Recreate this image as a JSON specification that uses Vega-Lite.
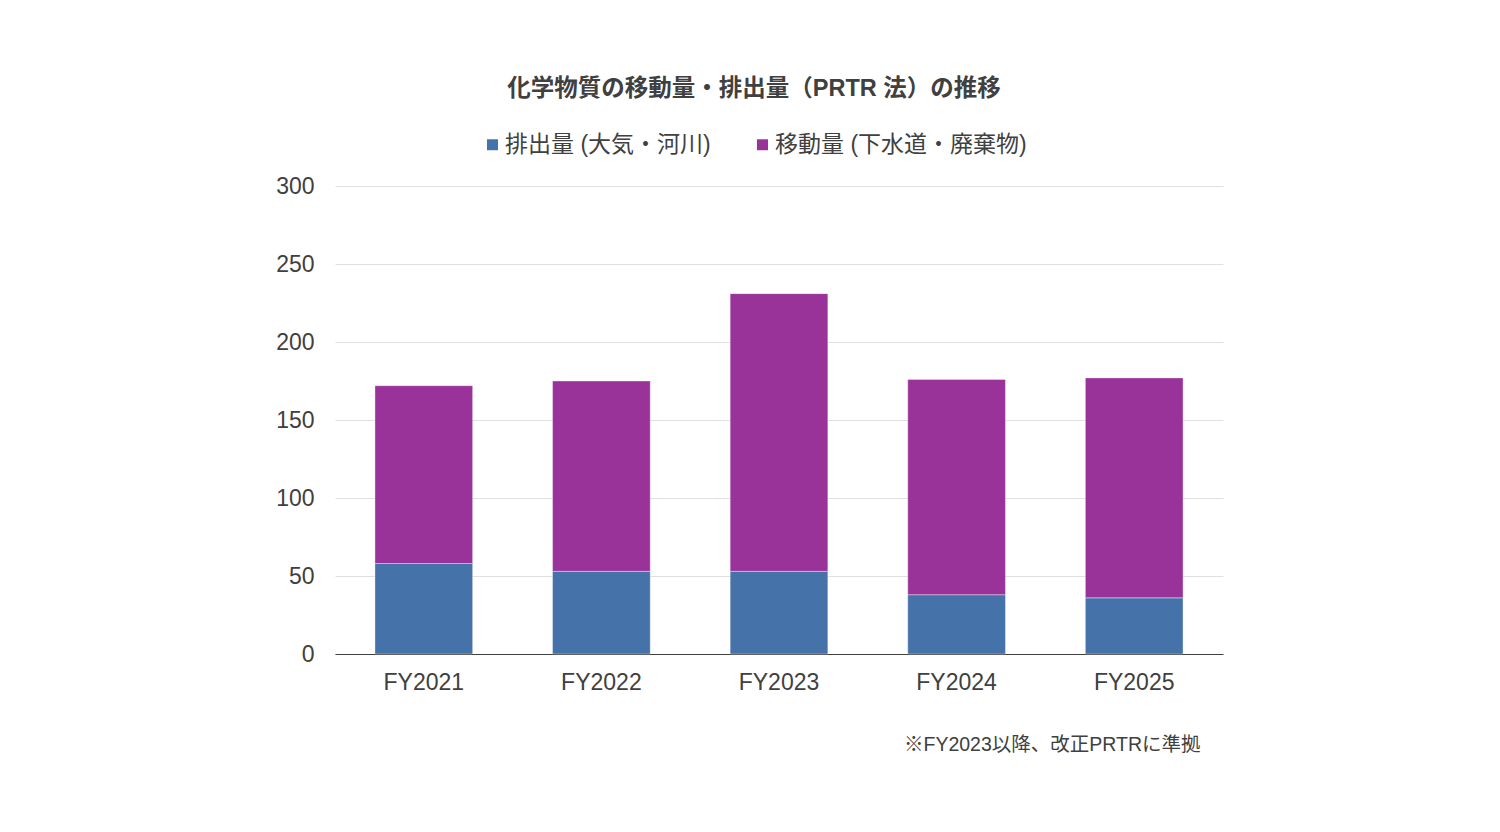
{
  "$schema": "https://vega.github.io/schema/vega-lite/v6.json",
  "width": 888,
  "height": 468,
  "autosize": {"type": "none"},
  "padding": {"left": 335, "top": 186, "right": 277, "bottom": 178},
  "background": "#ffffff",
  "config": {
    "font": "Liberation Sans, Arial, Noto Sans CJK JP",
    "view": {"stroke": null}
  },
  "title": {
    "text": "化学物質の移動量・排出量（PRTR 法）の推移",
    "fontSize": 23.5,
    "fontWeight": "bold",
    "color": "#404040",
    "anchor": "middle",
    "frame": "group",
    "dx": -25,
    "offset": 33
  },
  "data": {
    "values": [
      {"year": "FY2021", "kind": "排出量 (大気・河川)", "ord": 1, "value": 58},
      {"year": "FY2021", "kind": "移動量 (下水道・廃棄物)", "ord": 2, "value": 114},
      {"year": "FY2022", "kind": "排出量 (大気・河川)", "ord": 1, "value": 53},
      {"year": "FY2022", "kind": "移動量 (下水道・廃棄物)", "ord": 2, "value": 122},
      {"year": "FY2023", "kind": "排出量 (大気・河川)", "ord": 1, "value": 53},
      {"year": "FY2023", "kind": "移動量 (下水道・廃棄物)", "ord": 2, "value": 178},
      {"year": "FY2024", "kind": "排出量 (大気・河川)", "ord": 1, "value": 38},
      {"year": "FY2024", "kind": "移動量 (下水道・廃棄物)", "ord": 2, "value": 138},
      {"year": "FY2025", "kind": "排出量 (大気・河川)", "ord": 1, "value": 36},
      {"year": "FY2025", "kind": "移動量 (下水道・廃棄物)", "ord": 2, "value": 141}
    ]
  },
  "mark": {"type": "bar", "stroke": "#ffffff", "strokeWidth": 0.6, "strokeOpacity": 0.6},
  "encoding": {
    "x": {
      "field": "year",
      "type": "nominal",
      "sort": null,
      "scale": {"paddingInner": 0.45, "paddingOuter": 0.225},
      "axis": {
        "title": "※FY2023以降、改正PRTRに準拠",
        "titleFontSize": 19.5,
        "titleFontWeight": "normal",
        "titleColor": "#404040",
        "titleAnchor": "end",
        "titleAlign": "right",
        "titleBaseline": "middle",
        "titleX": 865,
        "titleY": 90,
        "labelAngle": 0,
        "labelFontSize": 23,
        "labelColor": "#404040",
        "labelPadding": 17,
        "ticks": false,
        "domainColor": "#404040",
        "domainWidth": 1.2
      }
    },
    "y": {
      "field": "value",
      "type": "quantitative",
      "stack": "zero",
      "scale": {"domain": [0, 300]},
      "axis": {
        "title": null,
        "values": [0, 50, 100, 150, 200, 250, 300],
        "labelFontSize": 23,
        "labelColor": "#404040",
        "labelPadding": 21,
        "ticks": false,
        "domain": false,
        "gridColor": "#e0e0e0",
        "gridWidth": 1.2
      }
    },
    "color": {
      "field": "kind",
      "type": "nominal",
      "scale": {
        "domain": ["排出量 (大気・河川)", "移動量 (下水道・廃棄物)"],
        "range": ["#4472a9", "#993399"]
      },
      "legend": {
        "title": null,
        "orient": "none",
        "direction": "horizontal",
        "legendX": 146,
        "legendY": -53,
        "symbolType": "square",
        "symbolSize": 120,
        "symbolStrokeWidth": 0,
        "labelFontSize": 23,
        "labelLimit": 0,
        "labelColor": "#404040",
        "labelOffset": 1,
        "columnPadding": 40
      }
    },
    "order": {"field": "ord", "type": "quantitative"}
  }
}
